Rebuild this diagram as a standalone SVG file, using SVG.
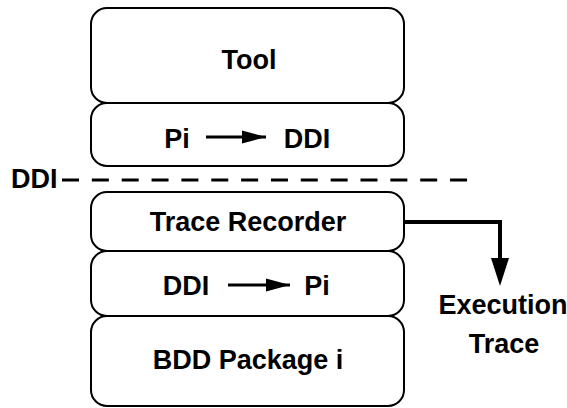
<svg xmlns="http://www.w3.org/2000/svg" width="567" height="408" viewBox="0 0 567 408">
<style>
  .box { fill: #fff; stroke: #000; stroke-width: 2; }
  .t { font-family: "Liberation Sans", Arial, sans-serif; font-weight: bold; font-size: 27px; fill: #000; }
  .c { text-anchor: middle; }
  .ln { stroke: #000; fill: none; }
</style>
<defs>
  <marker id="ah" markerWidth="8" markerHeight="4.4" refX="8" refY="2.2" orient="auto" markerUnits="strokeWidth">
    <path d="M0,0 L8,2.2 L0,4.4 Z" fill="#000"/>
  </marker>
</defs>
<rect width="567" height="408" fill="#fff"/>
<g id="tool">
  <rect class="box" x="91" y="8" width="313" height="95" rx="16"/>
  <text class="t c" x="249" y="69">Tool</text>
</g>
<g id="pi-ddi">
  <rect class="box" x="91" y="103" width="313" height="63" rx="16"/>
  <text class="t c" x="177" y="148">Pi</text>
  <text class="t c" x="307" y="148">DDI</text>
  <line class="ln" x1="206" y1="137" x2="266" y2="137" stroke-width="3" marker-end="url(#ah)"/>
</g>
<g id="ddi-label">
  <text class="t" x="11" y="188" font-size="24">DDI</text>
</g>
<g id="trace-recorder">
  <rect class="box" x="91" y="192" width="313" height="59" rx="16"/>
  <text class="t c" x="248" y="231">Trace Recorder</text>
</g>
<g id="ddi-pi">
  <rect class="box" x="91" y="251" width="313" height="65" rx="16"/>
  <text class="t c" x="186" y="295">DDI</text>
  <text class="t c" x="317" y="295">Pi</text>
  <line class="ln" x1="228" y1="285" x2="290" y2="285" stroke-width="3" marker-end="url(#ah)"/>
</g>
<g id="bdd">
  <rect class="box" x="91" y="316" width="313" height="90" rx="16"/>
  <text class="t c" x="248" y="369">BDD Package i</text>
</g>
<g id="exec-trace">
  <text class="t c" x="503" y="314" font-size="26.5">Execution</text>
  <text class="t c" x="504" y="353" font-size="26.5">Trace</text>
</g>
<g id="connectors">
  <line class="ln" x1="62" y1="180" x2="468" y2="180" stroke-width="3" stroke-dasharray="17 12.85"/>
  <path class="ln" d="M404,222 H500 V260" stroke-width="4"/>
  <path d="M491,258 L509,258 L500,286 Z" fill="#000"/>
</g>
</svg>
